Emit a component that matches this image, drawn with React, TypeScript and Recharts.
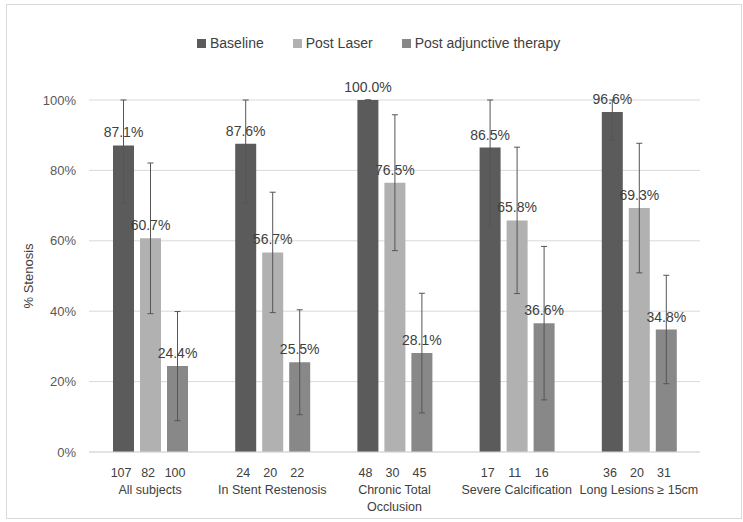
import React from "react";
import {
  BarChart,
  Bar,
  XAxis,
  YAxis,
  CartesianGrid,
  ErrorBar,
  LabelList,
  Label,
} from "recharts";

const categories = [
  "All subjects",
  "In Stent Restenosis",
  "Chronic Total Occlusion",
  "Severe Calcification",
  "Long Lesions ≥ 15cm",
];
const categoryLines = [
  ["All subjects"],
  ["In Stent Restenosis"],
  ["Chronic Total", "Occlusion"],
  ["Severe Calcification"],
  ["Long Lesions ≥ 15cm"],
];
const baseline = [87.1, 87.6, 100.0, 86.5, 96.6];
const postLaser = [60.7, 56.7, 76.5, 65.8, 69.3];
const postAdjunctive = [24.4, 25.5, 28.1, 36.6, 34.8];
const baselineErr = [16.4, 16.9, 0, 22.3, 8.0];
const postLaserErr = [21.4, 17.1, 19.3, 20.8, 18.4];
const postAdjunctiveErr = [15.5, 14.9, 17.0, 21.8, 15.4];
const baselineN = [107, 24, 48, 17, 36];
const postLaserN = [82, 20, 30, 11, 20];
const postAdjunctiveN = [100, 22, 45, 16, 31];
const yTicks = [0, 20, 40, 60, 80, 100];

const colors = { baseline: "#5b5b5b", laser: "#b1b1b1", adj: "#888888" };
const font = "'Liberation Sans', Arial, sans-serif";

// error bars stop at the top of the axis (100%)
const capped = (v: number, e: number) => [e, Math.min(e, 100 - v)];

const data = categories.map((name, i) => ({
  name,
  baseline: baseline[i],
  postLaser: postLaser[i],
  postAdjunctive: postAdjunctive[i],
  baselineErr: capped(baseline[i], baselineErr[i]),
  postLaserErr: capped(postLaser[i], postLaserErr[i]),
  postAdjunctiveErr: capped(postAdjunctive[i], postAdjunctiveErr[i]),
}));

const CategoryTick = (props: any) => {
  const { x, y, payload } = props;
  const i = payload.index;
  const counts = [baselineN[i], postLaserN[i], postAdjunctiveN[i]];
  return (
    <g fontFamily={font} fontSize={12.5} fill='#404040'>
      {counts.map((c, k) => (
        <text key={k} x={x + (k - 1) * 27 - 2} y={y + 23} textAnchor='middle' fill='#404040'>
          {c}
        </text>
      ))}
      {categoryLines[i].map((line, k) => (
        <text key={"l" + k} x={x} y={y + 40 + k * 17} textAnchor='middle' fill='#404040'>
          {line}
        </text>
      ))}
    </g>
  );
};

const legendItems = [
  { name: "Baseline", color: colors.baseline },
  { name: "Post Laser", color: colors.laser },
  { name: "Post adjunctive therapy", color: colors.adj },
];

const fmt = (v: any) => Number(v).toFixed(1) + "%";

const App = () => {
  return (
    <div
      style={{
        position: "absolute",
        left: 0,
        top: 0,
        width: 743,
        height: 522,
        background: "#fff",
      }}
    >
      <div
        style={{
          position: "absolute",
          left: 6,
          top: 4,
          width: 736,
          height: 515,
          border: "1px solid #d9d9d9",
          boxSizing: "border-box",
        }}
      />
      <div
        style={{
          position: "absolute",
          left: 197,
          top: 35,
          display: "flex",
          gap: 29,
          fontFamily: font,
          fontSize: 14,
          color: "#404040",
        }}
      >
        {legendItems.map((item) => (
          <div key={item.name} style={{ display: "flex", alignItems: "center" }}>
            <span
              style={{
                width: 9,
                height: 9,
                background: item.color,
                display: "inline-block",
                marginRight: 4,
              }}
            />
            <span>{item.name}</span>
          </div>
        ))}
      </div>
      <BarChart
        width={743}
        height={522}
        data={data}
        margin={{ top: 100, right: 43, left: 0, bottom: 0 }}
        barSize={21}
        barGap={6}
        style={{ position: "absolute", left: 0, top: 0 }}
      >
        <CartesianGrid vertical={false} stroke='#d9d9d9' />
        <XAxis
          dataKey='name'
          height={70}
          tickLine={false}
          tickSize={0}
          axisLine={{ stroke: "#d9d9d9" }}
          interval={0}
          tick={<CategoryTick />}
        />
        <YAxis
          width={89}
          domain={[0, 100]}
          allowDataOverflow
          ticks={yTicks}
          tickFormatter={(v) => v + "%"}
          axisLine={false}
          tickLine={false}
          tickMargin={7}
          tick={{ fill: "#595959", fontSize: 13, fontFamily: font }}
        >
          <Label
            value='% Stenosis'
            angle={-90}
            position='insideLeft'
            offset={28}
            style={{ textAnchor: "middle", fill: "#404040", fontSize: 13, fontFamily: font }}
          />
        </YAxis>
        <Bar dataKey='baseline' fill={colors.baseline} isAnimationActive={false}>
          <ErrorBar dataKey='baselineErr' width={3} stroke='#555555' strokeWidth={1} />
          <LabelList
            dataKey='baseline'
            position='top'
            offset={8}
            formatter={fmt}
            style={{ fill: "#404040", fontSize: 14, fontFamily: font }}
          />
        </Bar>
        <Bar dataKey='postLaser' fill={colors.laser} isAnimationActive={false}>
          <ErrorBar dataKey='postLaserErr' width={3} stroke='#555555' strokeWidth={1} />
          <LabelList
            dataKey='postLaser'
            position='top'
            offset={8}
            formatter={fmt}
            style={{ fill: "#404040", fontSize: 14, fontFamily: font }}
          />
        </Bar>
        <Bar dataKey='postAdjunctive' fill={colors.adj} isAnimationActive={false}>
          <ErrorBar dataKey='postAdjunctiveErr' width={3} stroke='#555555' strokeWidth={1} />
          <LabelList
            dataKey='postAdjunctive'
            position='top'
            offset={8}
            formatter={fmt}
            style={{ fill: "#404040", fontSize: 14, fontFamily: font }}
          />
        </Bar>
      </BarChart>
    </div>
  );
};

export default App;
